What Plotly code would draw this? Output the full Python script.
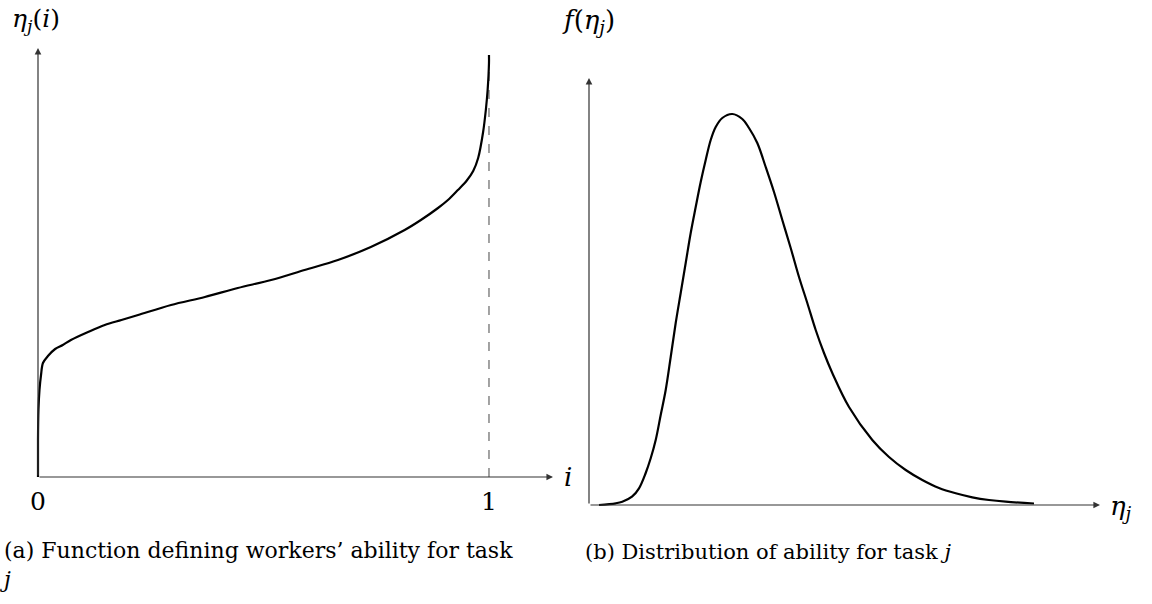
import plotly.graph_objects as go

# Panel (a): worker index i on [0, 1] and ability eta_j(i)
worker_index = [0.0, 0.0, 0.001, 0.0033, 0.0067, 0.011, 0.022, 0.038, 0.055, 0.073,
                0.111, 0.148, 0.185, 0.222, 0.295, 0.370, 0.443, 0.517, 0.591,
                0.665, 0.738, 0.813, 0.849, 0.887, 0.909, 0.931, 0.950, 0.965,
                0.976, 0.987, 0.993, 0.997, 1.0, 1.0]
ability = [0.0, 0.37, 0.67, 0.87, 1.02, 1.14, 1.21, 1.28, 1.32, 1.37,
           1.45, 1.52, 1.57, 1.62, 1.72, 1.80, 1.89, 1.97, 2.07,
           2.17, 2.30, 2.47, 2.57, 2.69, 2.77, 2.87, 2.96, 3.06,
           3.19, 3.45, 3.67, 3.87, 4.14, 4.22]

# Panel (b): density of ability for task j
eta_grid = [0.10, 0.267, 0.333, 0.43, 0.50, 0.567, 0.617, 0.667, 0.717, 0.767,
            0.817, 0.867, 0.917, 0.967, 1.017, 1.067, 1.117, 1.167, 1.217,
            1.267, 1.333, 1.433, 1.533, 1.60, 1.683, 1.767, 1.85, 1.933,
            2.017, 2.10, 2.183, 2.267, 2.35, 2.433, 2.60, 2.833, 3.0, 3.167,
            3.333, 3.50, 3.667, 3.833, 4.0, 4.167, 4.45]
density = [0.0, 0.017, 0.033, 0.083, 0.167, 0.32, 0.467, 0.65, 0.90, 1.15,
           1.48, 1.82, 2.12, 2.42, 2.72, 2.98, 3.23, 3.45, 3.65,
           3.78, 3.87, 3.91, 3.86, 3.77, 3.62, 3.38, 3.13, 2.85,
           2.57, 2.28, 2.02, 1.75, 1.52, 1.32, 0.98, 0.65, 0.48, 0.35,
           0.25, 0.17, 0.117, 0.077, 0.05, 0.033, 0.015]

tick_values = [0, 1]
tick_labels = ["0", "1"]

serif = "DejaVu Serif"
axis_col = "#333333"

fig = go.Figure()

fig.add_trace(go.Scatter(
    x=[1, 1], y=[0, ability[-1]], mode="lines",
    line=dict(color="#8c8c8c", width=1.6, dash="dash"),
    xaxis="x", yaxis="y", hoverinfo="skip", showlegend=False))
fig.add_trace(go.Scatter(
    x=worker_index, y=ability, mode="lines",
    line=dict(color="black", width=2.2, shape="spline", smoothing=0.9),
    xaxis="x", yaxis="y", showlegend=False))
fig.add_trace(go.Scatter(
    x=eta_grid, y=density, mode="lines",
    line=dict(color="black", width=2.2, shape="spline", smoothing=1.0),
    xaxis="x2", yaxis="y2", showlegend=False))

hidden = dict(visible=False, showgrid=False, zeroline=False, fixedrange=True)
fig.update_layout(
    width=1152, height=604,
    margin=dict(l=0, r=0, t=0, b=0),
    paper_bgcolor="white", plot_bgcolor="white",
    xaxis=dict(domain=[0, 0.5], range=[-0.08426, 1.19295], **hidden),
    yaxis=dict(domain=[0, 1], range=[-1.27, 4.77], **hidden),
    xaxis2=dict(domain=[0.5, 1], range=[-0.13, 5.63], anchor="y2", **hidden),
    yaxis2=dict(domain=[0, 1], range=[-0.99, 5.05], anchor="x2", **hidden),
)

def arrow(xref, yref, x0, y0, x1, y1):
    fig.add_annotation(x=x1, y=y1, ax=x0, ay=y0, xref=xref, yref=yref,
                       axref=xref, ayref=yref, showarrow=True, text="",
                       arrowhead=2, arrowsize=1.1, arrowwidth=1.2,
                       arrowcolor=axis_col, standoff=0, startstandoff=0)

# axes of panel (a)
arrow("x", "y", 0, 0, 1.142, 0)
arrow("x", "y", 0, 0, 0, 4.29)
# axes of panel (b)
arrow("x2", "y2", 0, 0, 5.11, 0)
arrow("x2", "y2", 0, 0, 0, 4.27)

def label(text, x, y, xref="paper", yref="paper", size=22, xanchor="center",
          align="center"):
    fig.add_annotation(x=x, y=y, xref=xref, yref=yref, text=text, showarrow=False,
                       xanchor=xanchor, yanchor="middle", align=align,
                       font=dict(family=serif, size=size, color="black"))

label("<i>η<sub>j</sub></i>(<i>i</i>)", -0.005, 4.57, "x", "y", size=25)
label("<i>i</i>", 1.175, 0.0, "x", "y", size=26)
for val, txt in zip(tick_values, tick_labels):
    label(txt, val, -0.24, "x", "y", size=25)

label("<i>f</i>(<i>η<sub>j</sub></i>)", -0.01, 4.84, "x2", "y2", size=26)
label("<i>η<sub>j</sub></i>", 5.32, -0.02, "x2", "y2", size=26)

label("(a) Function defining workers’ ability for task<br><i>j</i>",
      -0.003, 0.065, size=22, xanchor="left", align="left")
label("(b) Distribution of ability for task <i>j</i>", 583 / 1152, 52 / 604,
      size=21, xanchor="left")

fig.write_html("out.html")
